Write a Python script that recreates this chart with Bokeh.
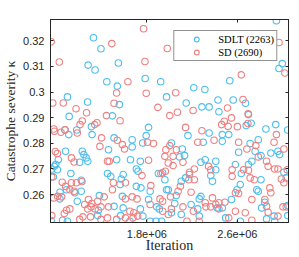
from bokeh.plotting import figure
from bokeh.models import Range1d, FixedTicker, LinearAxis, Legend, LegendItem
from bokeh.embed import file_html
from bokeh.resources import INLINE

# ---- data ----
sdlt_iter = [
    1.328e6, 1.394e6, 1.281e6, 1.342e6, 1.446e6, 1.098e6, 1.276e6, 1.113e6, 1.076e6, 1.180e6,
    1.310e6, 1.496e6, 1.557e6, 1.539e6, 1.785e6, 1.815e6, 1.548e6, 1.922e6, 1.974e6, 2.215e6,
    2.313e6, 2.148e6, 2.429e6, 2.287e6, 2.350e6, 2.437e6, 2.533e6, 2.563e6, 2.672e6, 2.698e6,
    2.722e6, 2.678e6, 2.852e6, 2.939e6, 3.045e6, 2.945e6, 2.997e6, 2.968e6, 1.110e6, 1.316e6,
    1.461e6, 1.081e6, 1.229e6, 1.243e6, 1.263e6, 1.017e6, 1.206e6, 1.278e6, 0.994e6, 0.983e6,
    1.009e6, 0.959e6, 1.128e6, 1.452e6, 0.974e6, 1.220e6, 1.090e6, 1.220e6, 1.032e6, 1.032e6,
    1.163e6, 1.185e6, 1.380e6, 1.371e6, 1.365e6, 0.954e6, 1.098e6, 1.055e6, 1.794e6, 1.763e6,
    1.670e6, 1.510e6, 1.670e6, 1.533e6, 1.655e6, 1.742e6, 1.707e6, 1.722e6, 1.591e6, 1.574e6,
    1.902e6, 1.939e6, 1.959e6, 1.481e6, 1.563e6, 1.707e6, 1.748e6, 1.829e6, 1.974e6, 1.583e6,
    1.815e6, 1.510e6, 1.591e6, 1.742e6, 1.887e6, 1.910e6, 1.765e6, 1.650e6, 1.829e6, 1.881e6,
    1.930e6, 1.568e6, 2.163e6, 2.350e6, 2.467e6, 2.017e6, 2.113e6, 2.298e6, 2.467e6, 2.090e6,
    2.133e6, 2.278e6, 2.316e6, 2.409e6, 2.177e6, 2.142e6, 2.409e6, 2.365e6, 2.380e6, 2.104e6,
    1.989e6, 2.061e6, 2.263e6, 2.278e6, 2.423e6, 2.046e6, 2.191e6, 2.250e6, 2.017e6, 2.104e6,
    2.263e6, 2.467e6, 2.496e6, 2.524e6, 2.713e6, 2.785e6, 2.611e6, 2.757e6, 2.896e6, 2.959e6,
    2.809e6, 2.974e6, 2.698e6, 2.728e6, 2.583e6, 2.635e6, 3.011e6, 2.809e6, 3.032e6, 2.626e6,
    2.597e6, 2.771e6, 2.785e6, 2.548e6, 2.843e6, 3.046e6, 2.815e6, 2.924e6, 2.858e6, 2.930e6,
    2.626e6, 3.046e6,
]
sdlt_kappa = [
    0.3212, 0.3169, 0.3105, 0.3086, 0.3040, 0.2981, 0.2961, 0.2905, 0.2852, 0.2852,
    0.2865, 0.2907, 0.2951, 0.3023, 0.3053, 0.2862, 0.3113, 0.3040, 0.2981, 0.3017,
    0.3010, 0.2957, 0.2969, 0.2942, 0.2942, 0.2923, 0.3044, 0.2969, 0.2956, 0.2912,
    0.2878, 0.2869, 0.2856, 0.2873, 0.2852, 0.3278, 0.3111, 0.3092, 0.2834, 0.2834,
    0.2775, 0.2769, 0.2769, 0.2756, 0.2743, 0.2736, 0.2726, 0.2730, 0.2717, 0.2710,
    0.2697, 0.2700, 0.2682, 0.2682, 0.2669, 0.2656, 0.2619, 0.2613, 0.2609, 0.2583,
    0.2607, 0.2574, 0.2596, 0.2539, 0.2518, 0.2499, 0.2496, 0.2500, 0.2830, 0.2801,
    0.2814, 0.2821, 0.2786, 0.2736, 0.2736, 0.2730, 0.2700, 0.2691, 0.2678, 0.2661,
    0.2682, 0.2685, 0.2658, 0.2671, 0.2639, 0.2632, 0.2626, 0.2613, 0.2619, 0.2593,
    0.2581, 0.2554, 0.2548, 0.2544, 0.2552, 0.2544, 0.2516, 0.2496, 0.2496, 0.2496,
    0.2496, 0.2518, 0.2830, 0.2840, 0.2834, 0.2801, 0.2778, 0.2804, 0.2808, 0.2747,
    0.2752, 0.2726, 0.2736, 0.2730, 0.2678, 0.2665, 0.2697, 0.2674, 0.2652, 0.2652,
    0.2619, 0.2596, 0.2583, 0.2593, 0.2548, 0.2565, 0.2561, 0.2544, 0.2529, 0.2522,
    0.2516, 0.2548, 0.2509, 0.2834, 0.2799, 0.2814, 0.2765, 0.2769, 0.2762, 0.2769,
    0.2752, 0.2756, 0.2717, 0.2730, 0.2717, 0.2682, 0.2687, 0.2658, 0.2665, 0.2639,
    0.2619, 0.2619, 0.2613, 0.2581, 0.2570, 0.2557, 0.2548, 0.2516, 0.2505, 0.2496,
    0.2496, 0.2518,
]
sd_iter = [
    0.954e6, 1.026e6, 0.968e6, 1.061e6, 1.174e6, 1.267e6, 1.443e6, 1.229e6, 1.359e6, 1.339e6,
    1.209e6, 0.977e6, 1.563e6, 1.510e6, 1.533e6, 1.632e6, 1.490e6, 1.771e6, 1.783e6, 1.794e6,
    1.980e6, 2.055e6, 1.898e6, 2.003e6, 2.070e6, 2.209e6, 2.513e6, 2.635e6, 2.650e6, 2.695e6,
    2.484e6, 2.461e6, 2.548e6, 2.600e6, 2.142e6, 2.287e6, 2.968e6, 3.020e6, 0.983e6, 1.041e6,
    1.076e6, 1.185e6, 1.400e6, 1.385e6, 0.991e6, 1.009e6, 1.133e6, 1.157e6, 1.452e6, 0.959e6,
    1.052e6, 1.226e6, 1.177e6, 1.133e6, 1.081e6, 1.119e6, 1.157e6, 1.046e6, 1.011e6, 1.284e6,
    1.313e6, 1.250e6, 1.365e6, 1.423e6, 1.342e6, 1.278e6, 1.307e6, 1.394e6, 1.461e6, 1.302e6,
    1.235e6, 1.206e6, 1.090e6, 1.119e6, 1.070e6, 0.959e6, 1.394e6, 0.977e6, 1.806e6, 1.858e6,
    1.539e6, 1.583e6, 1.603e6, 1.968e6, 1.959e6, 1.467e6, 1.815e6, 1.757e6, 1.924e6, 1.963e6,
    1.504e6, 1.611e6, 1.835e6, 1.496e6, 1.611e6, 1.713e6, 1.670e6, 1.916e6, 1.939e6, 1.650e6,
    1.684e6, 1.829e6, 1.939e6, 1.452e6, 1.533e6, 1.611e6, 1.678e6, 1.719e6, 2.003e6, 2.061e6,
    2.250e6, 2.394e6, 2.032e6, 1.989e6, 2.032e6, 2.119e6, 2.345e6, 2.220e6, 2.177e6, 2.365e6,
    2.220e6, 2.171e6, 2.096e6, 2.076e6, 2.191e6, 2.009e6, 2.316e6, 2.380e6, 2.409e6, 2.437e6,
    2.490e6, 2.119e6, 2.017e6, 2.322e6, 2.211e6, 2.365e6, 1.989e6, 2.154e6, 2.263e6, 2.437e6,
    2.519e6, 2.693e6, 2.945e6, 2.611e6, 2.763e6, 2.684e6, 2.924e6, 3.011e6, 2.785e6, 2.858e6,
    2.655e6, 2.698e6, 2.872e6, 2.930e6, 2.959e6, 2.554e6, 2.554e6, 3.041e6, 2.713e6, 2.750e6,
    2.989e6, 3.011e6, 2.887e6, 2.896e6, 2.583e6, 2.611e6, 2.728e6, 2.843e6, 2.858e6, 3.003e6,
    3.032e6, 2.583e6, 2.524e6, 2.670e6, 2.872e6, 2.728e6, 2.959e6,
]
sd_kappa = [
    0.3196, 0.3117, 0.2957, 0.2957, 0.2935, 0.2919, 0.2908, 0.2887, 0.2880, 0.2873,
    0.2873, 0.2856, 0.2888, 0.2956, 0.2996, 0.3040, 0.3189, 0.3247, 0.3119, 0.2995,
    0.3170, 0.2997, 0.2940, 0.2908, 0.2921, 0.2928, 0.2938, 0.3067, 0.2971, 0.2915,
    0.2886, 0.2873, 0.2899, 0.2865, 0.2862, 0.2849, 0.3193, 0.3074, 0.2847, 0.2843,
    0.2853, 0.2840, 0.2821, 0.2788, 0.2768, 0.2760, 0.2743, 0.2727, 0.2730, 0.2669,
    0.2648, 0.2651, 0.2646, 0.2646, 0.2632, 0.2619, 0.2613, 0.2591, 0.2593, 0.2581,
    0.2565, 0.2561, 0.2574, 0.2591, 0.2544, 0.2544, 0.2552, 0.2552, 0.2552, 0.2513,
    0.2513, 0.2503, 0.2539, 0.2544, 0.2526, 0.2518, 0.2503, 0.2587, 0.2804, 0.2799,
    0.2812, 0.2795, 0.2778, 0.2775, 0.2749, 0.2730, 0.2734, 0.2674, 0.2682, 0.2691,
    0.2646, 0.2646, 0.2635, 0.2619, 0.2583, 0.2583, 0.2591, 0.2583, 0.2574, 0.2535,
    0.2529, 0.2561, 0.2535, 0.2509, 0.2503, 0.2509, 0.2509, 0.2516, 0.2791, 0.2775,
    0.2804, 0.2812, 0.2749, 0.2723, 0.2713, 0.2726, 0.2710, 0.2700, 0.2687, 0.2697,
    0.2658, 0.2658, 0.2632, 0.2613, 0.2609, 0.2591, 0.2568, 0.2587, 0.2561, 0.2568,
    0.2570, 0.2552, 0.2544, 0.2552, 0.2535, 0.2552, 0.2522, 0.2496, 0.2496, 0.2544,
    0.2866, 0.2877, 0.2834, 0.2804, 0.2791, 0.2778, 0.2804, 0.2778, 0.2747, 0.2730,
    0.2697, 0.2695, 0.2710, 0.2700, 0.2700, 0.2697, 0.2671, 0.2697, 0.2665, 0.2658,
    0.2661, 0.2646, 0.2626, 0.2607, 0.2607, 0.2604, 0.2581, 0.2581, 0.2554, 0.2552,
    0.2552, 0.2535, 0.2509, 0.2529, 0.2531, 0.2500, 0.2516,
]
series_names = ["SDLT (2263)", "SD (2690)"]
x_ticks = [1800000, 2600000]
x_tick_labels = ["1.8e+06", "2.6e+06"]
y_ticks = [0.26, 0.27, 0.28, 0.29, 0.30, 0.31, 0.32]
y_tick_labels = ["0.26", "0.27", "0.28", "0.29", "0.3", "0.31", "0.32"]
x_label = "Iteration"
y_label = "Catastrophe severity κ"

# ---- styling ----
AX = "#262626"
BLUE = "#4DBEEE"
RED = "#F08080"

p = figure(width=299, height=257, output_backend="svg", toolbar_location=None,
           x_range=Range1d(0.948e6, 3.052e6), y_range=Range1d(0.2491, 0.3283),
           min_border_left=46, min_border_right=11, min_border_top=19, min_border_bottom=35)
p.xgrid.visible = False
p.ygrid.visible = False
p.outline_line_color = AX
p.outline_line_width = 1
p.background_fill_color = "white"
p.border_fill_color = "white"

r_blue = p.scatter(sdlt_iter, sdlt_kappa, marker="circle", size=6.5, fill_color=None,
                   line_color=BLUE, line_width=1.1)
r_red = p.scatter(sd_iter, sd_kappa, marker="circle", size=6.5, fill_color=None,
                  line_color=RED, line_width=1.1)

def style_axis(ax, ticks, labels, show_labels):
    ax.ticker = FixedTicker(ticks=ticks)
    ax.major_label_overrides = {t: (l if show_labels else "") for t, l in zip(ticks, labels)}
    ax.major_tick_in = 3
    ax.major_tick_out = 0
    ax.minor_tick_line_color = None
    ax.axis_line_color = AX
    ax.major_tick_line_color = AX
    ax.major_label_text_font = "Liberation Sans"
    ax.major_label_text_color = AX
    if show_labels:
        ax.major_label_text_font_size = "11px"
    else:
        ax.major_label_text_font_size = "0px"
        ax.major_label_standoff = 0

xa = p.xaxis[0]
style_axis(xa, x_ticks, x_tick_labels, True)
xa.major_label_standoff = 7
xa.axis_label = x_label
xa.axis_label_text_font = "Liberation Serif"
xa.axis_label_text_font_size = "14px"
xa.axis_label_text_font_style = "normal"
xa.axis_label_text_color = AX
xa.axis_label_standoff = -3

ya = p.yaxis[0]
style_axis(ya, y_ticks, y_tick_labels, True)
ya.major_label_standoff = 6
ya.axis_label = y_label
ya.axis_label_text_font = "Liberation Serif"
ya.axis_label_text_font_size = "13.5px"
ya.axis_label_text_font_style = "normal"
ya.axis_label_text_color = AX
ya.axis_label_standoff = 2

top_ax = LinearAxis()
style_axis(top_ax, x_ticks, x_tick_labels, False)
p.add_layout(top_ax, "above")
right_ax = LinearAxis()
style_axis(right_ax, y_ticks, y_tick_labels, False)
p.add_layout(right_ax, "right")

legend = Legend(items=[LegendItem(label=series_names[0], renderers=[r_blue]),
                       LegendItem(label=series_names[1], renderers=[r_red])],
                location="top_right", margin=11, padding=2, spacing=1,
                glyph_width=40, glyph_height=12, label_height=12, label_standoff=2,
                label_text_font="Liberation Serif", label_text_font_size="10.5px",
                label_text_color="black", border_line_color=AX, border_line_width=1,
                background_fill_color="white", background_fill_alpha=1)
p.add_layout(legend)

open("out.html", "w").write(file_html(p, INLINE))
